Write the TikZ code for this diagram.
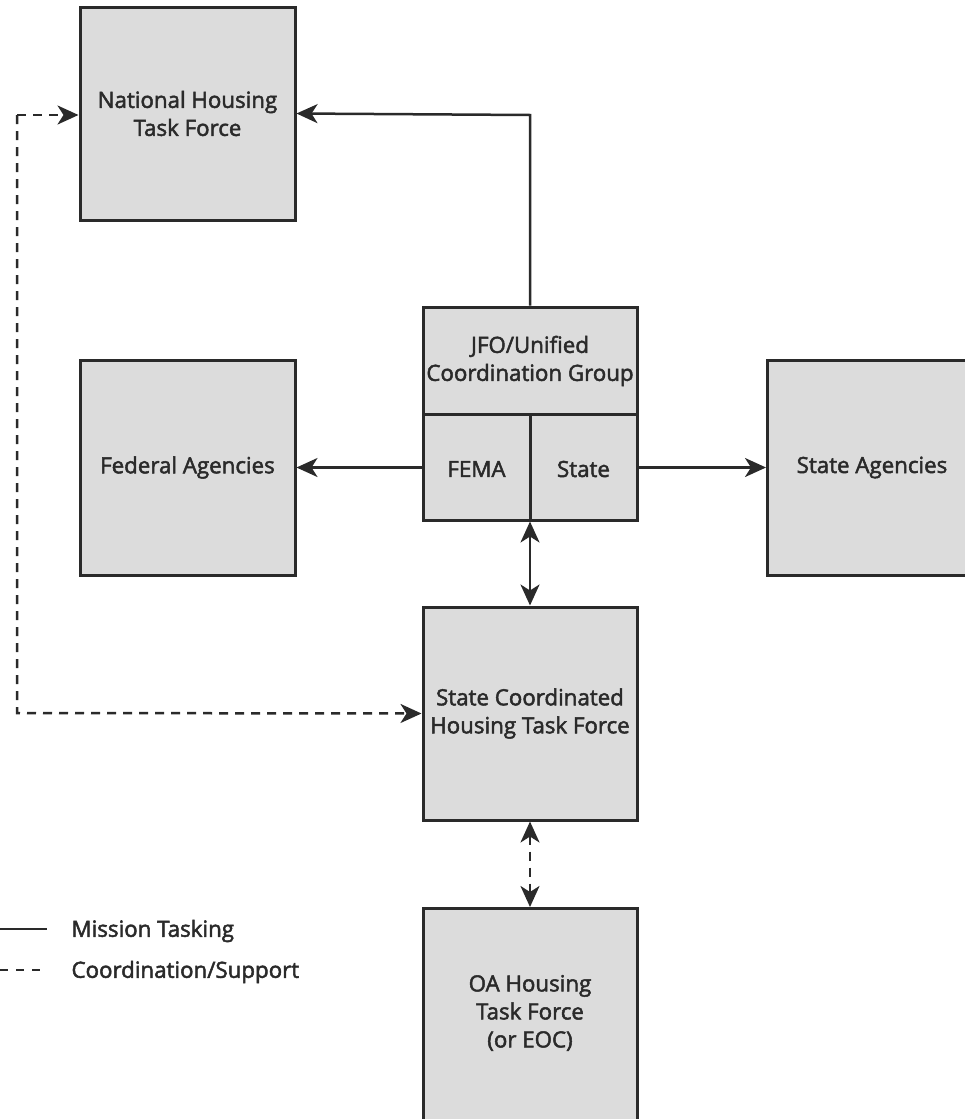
\documentclass[tikz,border=0pt]{standalone}
\usepackage{fontspec}
\setmainfont{Open Sans}[FakeBold=2.2,UprightFeatures={FakeBold=2.2}]
\usetikzlibrary{arrows.meta}
\definecolor{boxfill}{HTML}{DCDCDC}
\definecolor{edge}{HTML}{2A2A2A}
\tikzset{
  tip/.tip={Stealth[length=21pt, width=19pt, inset=6pt]},
  box/.style={draw=edge, fill=boxfill, line width=3pt, inner sep=0pt},
  lbl/.style={font=\fontsize{22.3}{28}\selectfont, text=edge, align=center},
  conn/.style={draw=edge, line width=2.5pt, -tip},
  dconn/.style={conn, dash pattern=on 9pt off 7pt},
}
\begin{document}
\begin{tikzpicture}[x=1pt, y=-1pt]
\useasboundingbox (0,0) rectangle (965,1119);
% boxes
\node[box, minimum width=215pt, minimum height=213pt] (nhtf) at (187.5,113.5) {};
\node[lbl] at (nhtf) {National Housing\\Task Force};
\node[box, minimum width=215pt, minimum height=215pt] (fed) at (187.5,467.5) {};
\node[lbl] at (fed) {Federal Agencies};
\node[box, minimum width=230pt, minimum height=215pt, anchor=west] (sag) at (766,467.5) {};
\node[lbl] at (872,467.5) {State Agencies};
\node[box, minimum width=214pt, minimum height=213pt] (jfo) at (530,413.5) {};
\coordinate (jfol) at (423,414);
\coordinate (jfor) at (637,414);
\draw[edge, line width=3pt] (jfol) -- (jfor);
\draw[edge, line width=3pt] (530,414) -- (jfo.south);
\node[lbl] (jfot) at (530,361) {JFO/Unified\\Coordination Group};
\node[lbl] (fema) at (476.5,469) {FEMA};
\node[lbl] (state) at (583.5,469) {State};
\node[box, minimum width=214pt, minimum height=213pt] (schtf) at (530,713.5) {};
\node[lbl] at (schtf) {State Coordinated\\Housing Task Force};
\node[box, minimum width=214pt, minimum height=240pt, anchor=north] (oa) at (530,907) {};
\node[lbl] at (530,1013) {OA Housing\\Task Force\\(or EOC)};
% connectors
\draw[conn] (jfo.north) -- (530,115) -- (nhtf.east);
\draw[conn] (jfo.west |- fed.east) -- (fed.east);
\draw[conn] (jfo.east |- sag.west) -- (sag.west);
\draw[conn, tip-tip] (jfo.south) -- (schtf.north);
\draw[dconn, tip-tip] (schtf.south) -- (oa.north);
\coordinate (dl) at (17,115);
\draw[dconn] (dl) -- (nhtf.west |- dl);
\draw[dconn] (dl) -- (17,713) -- (schtf.west);
% legend
\coordinate (l1a) at (0,929);
\coordinate (l1b) at (47,929);
\coordinate (l2a) at (0,970);
\coordinate (l2b) at (47,970);
\draw[edge, line width=2.5pt] (l1a) -- (l1b);
\draw[edge, line width=2.5pt, dash pattern=on 8pt off 8pt] (l2a) -- (l2b);
\node[lbl, anchor=west] (lt1) at (68,931) {Mission Tasking};
\node[lbl, anchor=west] (lt2) at (68,972) {Coordination/Support};
\end{tikzpicture}
\end{document}
